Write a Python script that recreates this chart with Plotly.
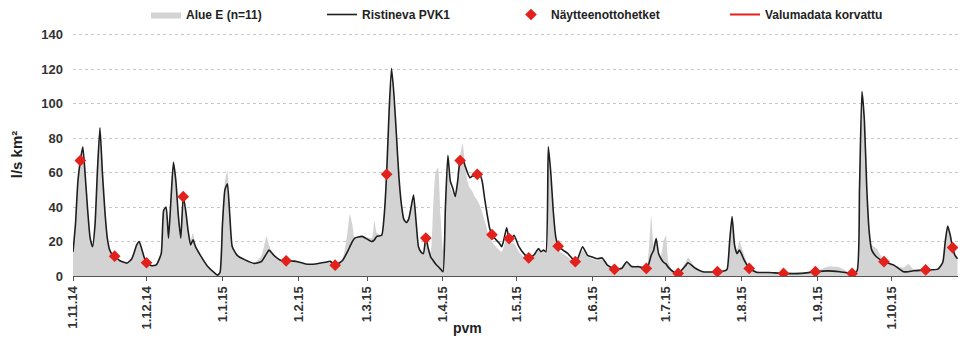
import plotly.graph_objects as go

# ---- data ----
dates = [
    "2014-11-01", "2014-11-02", "2014-11-03", "2014-11-04", "2014-11-05", "2014-11-06", "2014-11-07",
    "2014-11-08", "2014-11-09", "2014-11-10", "2014-11-11", "2014-11-12", "2014-11-13", "2014-11-14",
    "2014-11-15", "2014-11-16", "2014-11-17", "2014-11-18", "2014-11-20", "2014-11-23", "2014-11-25",
    "2014-11-27", "2014-11-28", "2014-11-29", "2014-11-30", "2014-12-01", "2014-12-03", "2014-12-05",
    "2014-12-07", "2014-12-08", "2014-12-09", "2014-12-10", "2014-12-11", "2014-12-12", "2014-12-13",
    "2014-12-14", "2014-12-15", "2014-12-16", "2014-12-17", "2014-12-18", "2014-12-19", "2014-12-20",
    "2014-12-21", "2014-12-23", "2014-12-26", "2014-12-29", "2014-12-30", "2014-12-31",
    "2015-01-01", "2015-01-02", "2015-01-03", "2015-01-04", "2015-01-05", "2015-01-07", "2015-01-10",
    "2015-01-14", "2015-01-17", "2015-01-19", "2015-01-20", "2015-01-22", "2015-01-25", "2015-01-27",
    "2015-01-31", "2015-02-04", "2015-02-08", "2015-02-12", "2015-02-14", "2015-02-16", "2015-02-19",
    "2015-02-21", "2015-02-22", "2015-02-23", "2015-02-24", "2015-02-27", "2015-03-03", "2015-03-04",
    "2015-03-05", "2015-03-07", "2015-03-08", "2015-03-09", "2015-03-10", "2015-03-11", "2015-03-12",
    "2015-03-13", "2015-03-14", "2015-03-15", "2015-03-16", "2015-03-17", "2015-03-18", "2015-03-19",
    "2015-03-20", "2015-03-21", "2015-03-22", "2015-03-23", "2015-03-24", "2015-03-25", "2015-03-26",
    "2015-03-27", "2015-03-28", "2015-03-29", "2015-03-30", "2015-03-31", "2015-04-01", "2015-04-02",
    "2015-04-03", "2015-04-04", "2015-04-05", "2015-04-06", "2015-04-07", "2015-04-08", "2015-04-09",
    "2015-04-10", "2015-04-11", "2015-04-12", "2015-04-13", "2015-04-14", "2015-04-15", "2015-04-16",
    "2015-04-17", "2015-04-18", "2015-04-19", "2015-04-20", "2015-04-21", "2015-04-22", "2015-04-24",
    "2015-04-25", "2015-04-26", "2015-04-27", "2015-04-28", "2015-04-29", "2015-04-30", "2015-05-02",
    "2015-05-04", "2015-05-06", "2015-05-08", "2015-05-09", "2015-05-10", "2015-05-11", "2015-05-12",
    "2015-05-13", "2015-05-14", "2015-05-15", "2015-05-16", "2015-05-17", "2015-05-18", "2015-05-20",
    "2015-05-22", "2015-05-25", "2015-05-26", "2015-05-28", "2015-05-30", "2015-06-01", "2015-06-03",
    "2015-06-05", "2015-06-07", "2015-06-10", "2015-06-13", "2015-06-15", "2015-06-17", "2015-06-20",
    "2015-06-23", "2015-06-24", "2015-06-25", "2015-06-26", "2015-06-27", "2015-06-28", "2015-06-29",
    "2015-06-30", "2015-07-01", "2015-07-02", "2015-07-04", "2015-07-06", "2015-07-09", "2015-07-10",
    "2015-07-13", "2015-07-16", "2015-07-22", "2015-07-25", "2015-07-26", "2015-07-27", "2015-07-28",
    "2015-07-29", "2015-07-30", "2015-07-31", "2015-08-02", "2015-08-04", "2015-08-07", "2015-08-12",
    "2015-08-18", "2015-08-25", "2015-08-31", "2015-09-05", "2015-09-10", "2015-09-15", "2015-09-17",
    "2015-09-18", "2015-09-19", "2015-09-20", "2015-09-21", "2015-09-22", "2015-09-23", "2015-09-25",
    "2015-09-28", "2015-10-02", "2015-10-06", "2015-10-08", "2015-10-10", "2015-10-15", "2015-10-20",
    "2015-10-22", "2015-10-23", "2015-10-24", "2015-10-25", "2015-10-26", "2015-10-27", "2015-10-28",
]

ristineva = [
    14, 30, 55, 67, 75, 58, 38,
    22, 17, 30, 62, 86, 60, 38,
    22, 15, 12.5, 11.5, 9, 7.5, 10,
    18, 20, 16, 11, 7.7, 6, 6.5,
    13, 38, 40, 22, 45, 66, 55,
    35, 22, 46, 38, 26, 18, 21,
    17, 12, 5.5, 1.5, 0.5, 2,
    30, 50, 53.5, 35, 17, 12, 9.5,
    7.3, 8.5, 13, 15, 12, 9, 8.8,
    8.5, 7, 7, 8, 8.5, 6.3, 9,
    14, 17, 20, 22, 23, 20, 21,
    23, 23.6, 35, 59, 95, 120.5, 105,
    82, 58, 42, 33, 31, 33, 40,
    47, 32, 17, 14, 13, 22, 16,
    11, 9, 7, 5.5, 4, 2.5, 40,
    70, 55, 51, 46, 55, 67, 68,
    64, 60, 57, 58, 58, 59, 59,
    55, 45, 36, 28, 24, 22, 19,
    17, 22, 28, 21.7, 22, 23.6, 17,
    13, 10.5, 12, 14, 16, 14, 15,
    14, 75, 60, 38, 23, 17.3, 15,
    13, 8.3, 10, 17, 12, 11, 10,
    10.5, 6.5, 3.9, 4.5, 8.3, 5.5, 5.4,
    4.4, 7, 12, 15, 21.7, 13, 10,
    8, 7, 5, 2.5, 1.5, 6, 7.7,
    4.5, 2.5, 2.5, 3, 4, 20, 34.5,
    18, 13, 15, 9, 4.4, 2.2, 2,
    1.5, 1.5, 2.5, 3, 2.5, 1.5, 3,
    50, 107, 90, 50, 25, 15, 11,
    8.3, 6.3, 2.5, 2.5, 3, 3.5, 4,
    8, 20, 29, 24, 16.5, 12, 10,
]

alue_e = [
    14, 28, 52, 66, 73, 58, 38,
    22, 17, 32, 64, 86, 62, 40,
    23, 15, 12.5, 11.5, 9, 7.5, 10,
    18, 20, 16, 11, 7.7, 6, 6.5,
    13, 38, 40, 23, 46, 66, 55,
    36, 24, 46, 38, 27, 21, 25,
    18, 12, 5.5, 1.5, 0.5, 2,
    32, 55, 61, 38, 18, 12, 9.5,
    7.5, 12, 23, 18, 12, 9, 8.8,
    8.5, 7, 7, 8, 8.5, 6.3, 10,
    25, 36, 30, 22, 23, 22, 32,
    25, 24, 35, 59, 92, 112, 100,
    80, 57, 42, 34, 32, 34, 40,
    45, 30, 16, 14, 13, 22, 16,
    14, 40, 60, 63, 35, 15, 38,
    62, 52, 48, 45, 55, 70, 77,
    65, 55, 51, 49, 46, 44, 41,
    37, 32, 27, 22, 20, 18, 15,
    14, 18, 24, 19, 19, 19, 14,
    11, 9, 11, 13, 15, 13, 14,
    13, 70, 55, 35, 20, 15, 13,
    11, 7.5, 9, 15, 11, 10, 9,
    9.5, 6, 3.9, 4.5, 8, 5.5, 5.4,
    4.4, 15, 35, 18, 20, 12, 12,
    20, 23.6, 8, 2.5, 1.5, 8, 10.8,
    5, 2.5, 2.5, 3, 4, 18, 30,
    18, 15, 20, 12, 5, 2.2, 2,
    1.5, 1.5, 2.5, 5.4, 5, 1.5, 3,
    48, 100, 85, 45, 25, 18, 16,
    9, 6.3, 5, 7, 4, 3.5, 4,
    8, 20, 28, 23, 16, 12, 10,
]

sample_dates = [
    "2014-11-04", "2014-11-18", "2014-12-01", "2014-12-16", "2015-01-27", "2015-02-16",
    "2015-03-09", "2015-03-25", "2015-04-08", "2015-04-15", "2015-04-21", "2015-04-28",
    "2015-05-06", "2015-05-18", "2015-05-25", "2015-06-10", "2015-06-23", "2015-07-06",
    "2015-07-22", "2015-08-04", "2015-08-18", "2015-08-31", "2015-09-15", "2015-09-28",
    "2015-10-15", "2015-10-26",
]
sample_values = [
    67, 11.5, 7.7, 46, 8.8, 6.3,
    59, 22, 67, 59, 24, 21.7,
    10.5, 17.3, 8.3, 3.9, 4.4, 1.5,
    2.5, 4.4, 1.5, 2.5, 1.5, 8.3,
    3.5, 16.5,
]

tick_dates = [
    "2014-11-01", "2014-12-01", "2015-01-01", "2015-02-01", "2015-03-01", "2015-04-01",
    "2015-05-01", "2015-06-01", "2015-07-01", "2015-08-01", "2015-09-01", "2015-10-01",
]
tick_labels = [
    "1.11.14", "1.12.14", "1.1.15", "1.2.15", "1.3.15", "1.4.15",
    "1.5.15", "1.6.15", "1.7.15", "1.8.15", "1.9.15", "1.10.15",
]

FONT = "Liberation Sans, Arial, sans-serif"
ML, MR, MT, MB = 73, 2, 33, 62
PW = 960 - ML - MR
PH = 338 - MT - MB

fig = go.Figure()
fig.add_trace(go.Scatter(
    x=dates, y=alue_e, name="Alue E (n=11)", mode="lines", legend="legend",
    fill="tozeroy", fillcolor="#d3d3d3", line=dict(width=0, color="#d3d3d3", shape="spline", smoothing=0.5),
))
fig.add_trace(go.Scatter(
    x=dates, y=ristineva, name="Ristineva PVK1", mode="lines", legend="legend2",
    line=dict(color="#1e1e1e", width=1.6, shape="spline", smoothing=0.5),
))
fig.add_trace(go.Scatter(
    x=sample_dates, y=sample_values, name="Näytteenottohetket", mode="markers", legend="legend3",
    marker=dict(symbol="diamond", color="#e3211c", size=9, line=dict(width=0)),
))
fig.add_trace(go.Scatter(
    x=[None], y=[None], name="Valumadata korvattu", mode="lines", legend="legend4",
    line=dict(color="#e3211c", width=2),
))

LEG_FONT = dict(family=FONT, size=12, color="#222222", weight="bold")


def leg(px_left):
    return dict(
        orientation="h", x=(px_left - ML) / PW, y=1 + 4 / PH, xanchor="left", yanchor="bottom",
        font=LEG_FONT, itemwidth=30, bgcolor="rgba(0,0,0,0)",
    )


fig.update_layout(
    width=960, height=338,
    margin=dict(l=ML, r=MR, t=MT, b=MB, autoexpand=False),
    paper_bgcolor="white", plot_bgcolor="white",
    font=dict(family=FONT, size=12, color="#222222", weight="bold"),
    showlegend=True,
    legend=leg(146), legend2=leg(322), legend3=leg(511), legend4=leg(725),
    xaxis=dict(
        type="date", range=["2014-11-01", "2015-10-28 05:00"],
        tickvals=tick_dates, ticktext=tick_labels, tickangle=-90,
        tickfont=dict(family=FONT, size=13, color="#333333", weight="bold"),
        showgrid=False, showline=True, linecolor="#555555", linewidth=1,
        ticks="outside", ticklen=4, tickcolor="#555555", zeroline=False,
        automargin=False,
    ),
    yaxis=dict(
        range=[0, 141], tickvals=[0, 20, 40, 60, 80, 100, 120, 140],
        tickfont=dict(family=FONT, size=13, color="#333333", weight="bold"),
        showgrid=True, gridcolor="#c8c8c8", griddash="dot", gridwidth=1,
        zeroline=False, showline=False, ticks="", ticklabelstandoff=9,
        automargin=False,
        title=dict(text="l/s km²", font=dict(family=FONT, size=15, color="#222222", weight="bold"),
                   standoff=15),
    ),
    annotations=[dict(
        text="pvm", x=(467 - ML) / PW, y=-(328 - 276) / PH, xref="paper", yref="paper",
        showarrow=False, yanchor="middle",
        font=dict(family=FONT, size=14, color="#222222", weight="bold"),
    )],
)

fig.write_html("out.html", config={"displayModeBar": False},
               post_script="document.body.style.margin='0';")
